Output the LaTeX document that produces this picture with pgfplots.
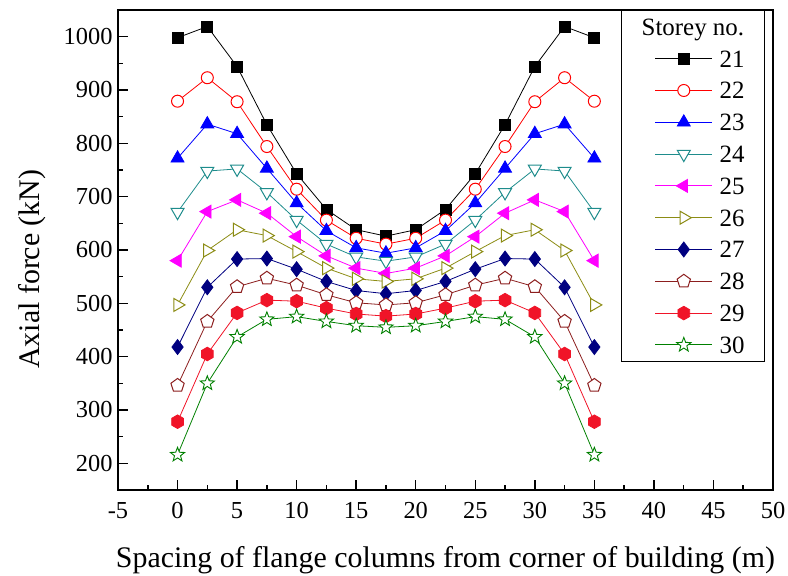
\documentclass[border=0pt]{standalone}
\usepackage{fontspec}
\setmainfont{Liberation Serif}
\usepackage{pgfplots}
\pgfplotsset{compat=1.18}
\usetikzlibrary{plotmarks}

\pgfdeclareplotmark{hexa*}{%
\pgfpathmoveto{\pgfqpointpolar{90}{\pgfplotmarksize}}%
\pgfpathlineto{\pgfqpointpolar{150}{\pgfplotmarksize}}%
\pgfpathlineto{\pgfqpointpolar{210}{\pgfplotmarksize}}%
\pgfpathlineto{\pgfqpointpolar{270}{\pgfplotmarksize}}%
\pgfpathlineto{\pgfqpointpolar{330}{\pgfplotmarksize}}%
\pgfpathlineto{\pgfqpointpolar{30}{\pgfplotmarksize}}%
\pgfpathclose\pgfusepathqfillstroke}

\pgfdeclareplotmark{ostar}{%
\pgfpathmoveto{\pgfpointpolar{90}{\pgfplotmarksize}}%
\pgfpathlineto{\pgfpointpolar{126}{0.42\pgfplotmarksize}}%
\pgfpathlineto{\pgfpointpolar{162}{\pgfplotmarksize}}%
\pgfpathlineto{\pgfpointpolar{198}{0.42\pgfplotmarksize}}%
\pgfpathlineto{\pgfpointpolar{234}{\pgfplotmarksize}}%
\pgfpathlineto{\pgfpointpolar{270}{0.42\pgfplotmarksize}}%
\pgfpathlineto{\pgfpointpolar{306}{\pgfplotmarksize}}%
\pgfpathlineto{\pgfpointpolar{342}{0.42\pgfplotmarksize}}%
\pgfpathlineto{\pgfpointpolar{18}{\pgfplotmarksize}}%
\pgfpathlineto{\pgfpointpolar{54}{0.42\pgfplotmarksize}}%
\pgfpathclose\pgfusepathqfillstroke}

\definecolor{c22}{RGB}{255,0,0}
\definecolor{c23}{RGB}{0,0,255}
\definecolor{c24}{RGB}{30,140,140}
\definecolor{c25}{RGB}{255,0,255}
\definecolor{c26}{RGB}{140,140,20}
\definecolor{c27}{RGB}{0,0,128}
\definecolor{c28}{RGB}{140,30,30}
\definecolor{c29}{RGB}{240,20,40}
\definecolor{c30}{RGB}{0,128,0}

\newcommand{\tickfont}{\fontsize{24.5}{28}\selectfont}

\begin{document}
\begin{tikzpicture}
\begin{axis}[
  scale only axis, width=655bp, height=480bp,
  xmin=-5, xmax=50, ymin=150, ymax=1050,
  xtick={-5,0,...,50}, ytick={200,300,...,1000},
  minor x tick num=1, minor y tick num=1,
  tick pos=left, tick align=inside,
  major tick length=10bp, minor tick length=5bp,
  every tick/.style={black, line width=1.5bp},
  axis line style={line width=1.8bp},
  xticklabel={\textrm{\tickfont\pgfmathprintnumber[assume math mode=true,1000 sep={}]{\tick}}},
  yticklabel={\textrm{\tickfont\pgfmathprintnumber[assume math mode=true,1000 sep={}]{\tick}}},
  every tick label/.append style={font=\tickfont},
  xticklabel style={yshift=-9bp},
  yticklabel style={xshift=-2bp},
  xlabel={Spacing of flange columns from corner of building (m)},
  ylabel={Axial force (kN)},
  label style={font=\fontsize{30}{36}\selectfont},
  xlabel style={yshift=-21bp},
  ylabel style={at={(ticklabel cs:0.46)}, yshift=11bp},
  legend style={at={(rel axis cs:0.9878,1)}, anchor=north east,
    draw=black, line width=0.8bp,
    font=\fontsize{25}{30}\selectfont,
    inner xsep=20bp, inner ysep=8bp,
    nodes={inner sep=0bp, text height=17bp, text depth=0bp},
    column sep=7bp, row sep=14.8bp, cells={anchor=west}},
  legend image code/.code={\path (-14bp,0bp); \draw[mark repeat=2,mark phase=2,#1] plot coordinates {(0bp,0bp) (28.5bp,0bp) (57bp,0bp)};},
]
\addlegendimage{empty legend}
\addlegendentry{\hspace*{-78bp}Storey no.}

\addplot[color=black, line width=0.8bp, mark=square*, mark size=5.5bp, mark options={solid, fill=black, line width=0.8bp}] coordinates {
(0,998) (2.5,1019) (5,944) (7.5,835) (10,743) (12.5,676) (15,638) (17.5,626) (20,638) (22.5,676) (25,743) (27.5,835) (30,944) (32.5,1019) (35,998)};
\addlegendentry{21}

\addplot[color=c22, line width=0.8bp, mark=*, mark size=6bp, mark options={solid, fill=white, line width=1bp}] coordinates {
(0,879) (2.5,923) (5,878) (7.5,794) (10,714) (12.5,656) (15,622) (17.5,611) (20,622) (22.5,656) (25,714) (27.5,794) (30,878) (32.5,923) (35,879)};
\addlegendentry{22}

\addplot[color=c23, line width=0.8bp, mark=triangle*, mark size=7.5bp, mark options={solid, fill=c23, line width=0.8bp}] coordinates {
(0,772) (2.5,836) (5,818) (7.5,753) (10,688) (12.5,636) (15,604) (17.5,594) (20,604) (22.5,636) (25,688) (27.5,753) (30,818) (32.5,836) (35,772)};
\addlegendentry{23}

\addplot[color=c24, line width=0.8bp, mark=triangle*, mark size=7.5bp, mark options={solid, rotate=180, fill=white, line width=1bp}] coordinates {
(0,671) (2.5,748) (5,752) (7.5,708) (10,656) (12.5,611) (15,587) (17.5,579) (20,587) (22.5,611) (25,656) (27.5,708) (30,752) (32.5,748) (35,671)};
\addlegendentry{24}

\addplot[color=c25, line width=0.8bp, mark=triangle*, mark size=7.5bp, mark options={solid, rotate=90, fill=c25, line width=0.8bp}] coordinates {
(0,580) (2.5,672) (5,694) (7.5,669) (10,625) (12.5,589) (15,566) (17.5,556) (20,566) (22.5,589) (25,625) (27.5,669) (30,694) (32.5,672) (35,580)};
\addlegendentry{25}

\addplot[color=c26, line width=0.8bp, mark=triangle*, mark size=7.5bp, mark options={solid, rotate=-90, fill=white, line width=1bp}] coordinates {
(0,497) (2.5,599) (5,638) (7.5,627) (10,597) (12.5,566) (15,546) (17.5,541) (20,546) (22.5,566) (25,597) (27.5,627) (30,638) (32.5,599) (35,497)};
\addlegendentry{26}

\addplot[color=c27, line width=0.8bp, mark=diamond*, mark size=7.5bp, mark options={solid, fill=c27, line width=0.8bp}] coordinates {
(0,418) (2.5,530) (5,583) (7.5,584) (10,564) (12.5,541) (15,524) (17.5,518) (20,524) (22.5,541) (25,564) (27.5,584) (30,583) (32.5,530) (35,418)};
\addlegendentry{27}

\addplot[color=c28, line width=0.8bp, mark=pentagon*, mark size=7bp, mark options={solid, fill=white, line width=1bp}] coordinates {
(0,346) (2.5,466) (5,531) (7.5,547) (10,534) (12.5,516) (15,501) (17.5,497) (20,501) (22.5,516) (25,534) (27.5,547) (30,531) (32.5,466) (35,346)};
\addlegendentry{28}

\addplot[color=c29, line width=0.8bp, mark=hexa*, mark size=6.8bp, mark options={solid, fill=c29, line width=0.8bp}] coordinates {
(0,278) (2.5,405) (5,482) (7.5,506) (10,504) (12.5,491) (15,480) (17.5,476) (20,480) (22.5,491) (25,504) (27.5,506) (30,482) (32.5,405) (35,278)};
\addlegendentry{29}

\addplot[color=c30, line width=0.8bp, mark=ostar, mark size=7.5bp, mark options={solid, fill=white, line width=0.9bp}] coordinates {
(0,216) (2.5,350) (5,437) (7.5,470) (10,475) (12.5,466) (15,458) (17.5,455) (20,458) (22.5,466) (25,475) (27.5,470) (30,437) (32.5,350) (35,216)};
\addlegendentry{30}

\coordinate (BL) at (rel axis cs:0,0);
\coordinate (TR) at (rel axis cs:1,1);
\end{axis}
\pgfresetboundingbox
\path ([shift={(-118bp,-86bp)}]BL) rectangle ([shift={(15bp,10bp)}]TR);
\end{tikzpicture}
\end{document}
